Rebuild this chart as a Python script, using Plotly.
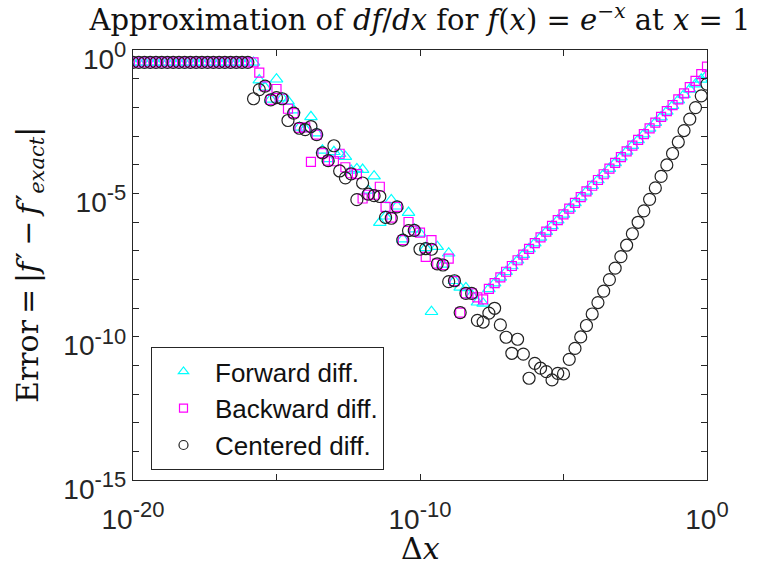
import plotly.graph_objects as go

# log10(dx): 101 step sizes from 1e-20 to 1e0
dx_log10 = [-20.0, -19.8, -19.6, -19.4, -19.2, -19.0, -18.8, -18.6, -18.4, -18.2,
            -18.0, -17.8, -17.6, -17.4, -17.2, -17.0, -16.8, -16.6, -16.4, -16.2,
            -16.0, -15.8, -15.6, -15.4, -15.2, -15.0, -14.8, -14.6, -14.4, -14.2,
            -14.0, -13.8, -13.6, -13.4, -13.2, -13.0, -12.8, -12.6, -12.4, -12.2,
            -12.0, -11.8, -11.6, -11.4, -11.2, -11.0, -10.8, -10.6, -10.4, -10.2,
            -10.0, -9.8, -9.6, -9.4, -9.2, -9.0, -8.8, -8.6, -8.4, -8.2,
            -8.0, -7.8, -7.6, -7.4, -7.2, -7.0, -6.8, -6.6, -6.4, -6.2,
            -6.0, -5.8, -5.6, -5.4, -5.2, -5.0, -4.8, -4.6, -4.4, -4.2,
            -4.0, -3.8, -3.6, -3.4, -3.2, -3.0, -2.8, -2.6, -2.4, -2.2,
            -2.0, -1.8, -1.6, -1.4, -1.2, -1.0, -0.8, -0.6, -0.4, -0.2, 0.0]

# log10 of the error
forward_log10_err = [
    -0.434, -0.434, -0.434, -0.434, -0.434, -0.434, -0.434, -0.434, -0.434, -0.434,
    -0.434, -0.434, -0.434, -0.434, -0.434, -0.434, -0.434, -0.434, -0.434, -0.434,
    -0.434, -0.434, -1.05, -1.30, -1.72, -1.02, -1.68, -1.78, -2.10, -2.70,
    -2.75, -2.33, -2.90, -3.50, -3.80, -3.55, -3.62, -3.72, -4.20, -4.15,
    -4.17, -4.90, -4.40, -6.02, -5.80, -5.23, -5.45, -6.60, -5.67, -6.25,
    -6.40, -6.90, -9.13, -6.86, -7.48, -7.09, -8.05, -8.28, -8.30, -8.55,
    -8.80, -8.84, -8.335, -8.135, -7.935, -7.735, -7.535, -7.335, -7.135, -6.935,
    -6.735, -6.535, -6.335, -6.135, -5.935, -5.735, -5.535, -5.335, -5.135, -4.935,
    -4.735, -4.535, -4.335, -4.135, -3.935, -3.735, -3.535, -3.335, -3.135, -2.935,
    -2.737, -2.537, -2.339, -2.141, -1.944, -1.750, -1.558, -1.372, -1.191, -1.022,
    -0.869]

backward_log10_err = [
    -0.434, -0.434, -0.434, -0.434, -0.434, -0.434, -0.434, -0.434, -0.434, -0.434,
    -0.434, -0.434, -0.434, -0.434, -0.434, -0.434, -0.434, -0.434, -0.434, -0.434,
    -0.434, -0.434, -0.79, -1.27, -1.74, -1.36, -1.70, -2.05, -2.20, -2.72,
    -2.70, -3.90, -2.95, -3.60, -3.86, -3.88, -3.62, -4.09, -4.30, -4.33,
    -5.18, -5.05, -5.05, -4.77, -5.47, -5.85, -5.47, -6.63, -6.00, -6.30,
    -6.37, -7.22, -6.63, -7.45, -7.50, -7.28, -8.06, -9.16, -8.49, -8.49,
    -8.63, -8.70, -8.335, -8.135, -7.935, -7.735, -7.535, -7.335, -7.135, -6.935,
    -6.735, -6.535, -6.335, -6.135, -5.935, -5.735, -5.535, -5.335, -5.135, -4.935,
    -4.735, -4.535, -4.335, -4.135, -3.935, -3.735, -3.535, -3.335, -3.135, -2.935,
    -2.734, -2.533, -2.332, -2.130, -1.926, -1.721, -1.513, -1.298, -1.076, -0.839,
    -0.578]

centered_log10_err = [
    -0.434, -0.434, -0.434, -0.434, -0.434, -0.434, -0.434, -0.434, -0.434, -0.434,
    -0.434, -0.434, -0.434, -0.434, -0.434, -0.434, -0.434, -0.434, -0.434, -0.434,
    -0.434, -1.70, -1.38, -1.26, -1.74, -1.66, -1.70, -2.46, -2.20, -2.73,
    -2.78, -2.67, -2.95, -3.59, -3.86, -3.34, -4.22, -4.46, -4.32, -5.22,
    -4.64, -5.03, -5.08, -5.11, -5.84, -5.87, -5.47, -6.63, -6.30, -6.29,
    -6.95, -6.93, -6.95, -7.46, -7.50, -8.08, -8.05, -9.16, -8.49, -8.49,
    -9.43, -9.49, -9.18, -9.01, -9.59, -10.02, -10.58, -10.09, -10.61, -11.45,
    -10.93, -11.10, -11.22, -11.51, -11.28, -11.30, -10.79, -10.41, -10.01, -9.61,
    -9.21, -8.81, -8.41, -8.01, -7.61, -7.21, -6.81, -6.41, -6.01, -5.61,
    -5.21, -4.81, -4.41, -4.01, -3.61, -3.21, -2.81, -2.41, -2.01, -1.60,
    -1.19]

series_names = ["Forward diff.", "Backward diff.", "Centered diff."]

SUP = "<sup><span style='font-size:22px'>{}</span></sup>"
x_tick_exps = [-20, -15, -10, -5, 0]
x_tick_text = ["10" + SUP.format("-20"), "", "10" + SUP.format("-10"), "", "10" + SUP.format("0")]
y_tick_exps = [0, -1, -2, -3, -4, -5, -6, -7, -8, -9, -10, -11, -12, -13, -14, -15]
y_tick_text = ["10" + SUP.format("0"), "", "", "", "", "10" + SUP.format("-5"), "", "", "", "",
               "10" + SUP.format("-10"), "", "", "", "", "10" + SUP.format("-15")]

dx = [10 ** e for e in dx_log10]
fwd = [10 ** e for e in forward_log10_err]
bwd = [10 ** e for e in backward_log10_err]
cen = [10 ** e for e in centered_log10_err]

styles = [
    dict(symbol="triangle-up-open", size=11, color="#00FFFF"),
    dict(symbol="square-open", size=9, color="#FF00FF"),
    dict(symbol="circle-open", size=12, color="#222222"),
]
legend_sizes = [9, 8, 9]

fig = go.Figure()
for name, ys, st in zip(series_names, [fwd, bwd, cen], styles):
    fig.add_trace(go.Scatter(x=dx, y=ys, mode="markers", name=name, showlegend=False,
                             marker=dict(symbol=st["symbol"], size=st["size"], color=st["color"],
                                         line=dict(width=1.2))))
# legend entries (smaller markers, as in the reference legend)
for name, st, ls in zip(series_names, styles, legend_sizes):
    fig.add_trace(go.Scatter(x=[None], y=[None], mode="markers", name=name,
                             marker=dict(symbol=st["symbol"], size=ls, color=st["color"],
                                         line=dict(width=1.2))))

axis_common = dict(showgrid=False, zeroline=False, showline=True, linecolor="#262626",
                   linewidth=1.2, mirror="ticks", ticks="inside", ticklen=6,
                   tickcolor="#262626", tickwidth=1,
                   tickfont=dict(family="Liberation Sans, Arial", size=28, color="#262626"))

fig.update_xaxes(type="log", range=[-20, 0],
                 tickvals=[10 ** e for e in x_tick_exps], ticktext=x_tick_text,
                 ticklabelstandoff=14, **axis_common)
fig.update_yaxes(type="log", range=[-15, 0],
                 tickvals=[10 ** e for e in y_tick_exps], ticktext=y_tick_text,
                 ticklabelstandoff=0, ticklabelshift=9, **axis_common)

PRIME = "<span style='font-style:normal'>\u2032</span>"

fig.update_layout(
    width=760, height=569,
    margin=dict(l=133, r=53, t=50, b=89, autoexpand=False),
    paper_bgcolor="white", plot_bgcolor="white",
    showlegend=True,
    legend=dict(x=(151 - 133) / 574, y=(480 - 347) / 430, xanchor="left", yanchor="top",
                bgcolor="white", bordercolor="#262626", borderwidth=1,
                font=dict(family="Liberation Sans, Arial", size=26, color="#111111"),
                itemsizing="trace", itemwidth=53),
    title=dict(text="Approximation of <i>df</i>/<i>dx</i> for <i>f</i>(<i>x</i>) = <i>e</i><sup>\u2212<i>x</i></sup> at <i>x</i> = 1",
               x=420 / 760, xanchor="center", y=1 - 20 / 569, yanchor="middle",
               font=dict(family="DejaVu Serif", size=29, color="#111111")),
    annotations=[
        dict(text="Error\u2009=\u2009|<i>f</i>\u200a" + PRIME + "\u2009\u2212\u2009<i>f</i>\u200a" + PRIME
                  + "<sub><i>exact</i></sub>|",
             xref="paper", yref="paper", x=-(133 - 29) / 574, y=0.5,
             xanchor="center", yanchor="middle", textangle=-90, showarrow=False,
             font=dict(family="DejaVu Serif", size=30, color="#111111")),
        dict(text="\u0394<i>x</i>",
             xref="paper", yref="paper", x=(420 - 133) / 574, y=-(548 - 480) / 430,
             xanchor="center", yanchor="middle", showarrow=False,
             font=dict(family="DejaVu Serif", size=30, color="#111111")),
    ],
)

fig.write_html("out.html", config={"displayModeBar": False},
               post_script="document.body.style.margin='0';document.body.style.padding='0';")
